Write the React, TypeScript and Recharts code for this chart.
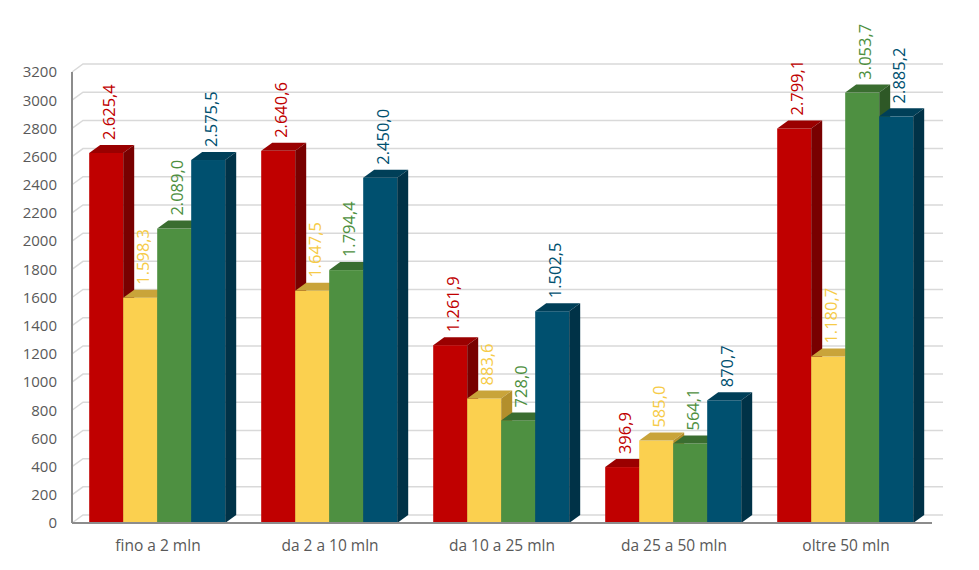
import { BarChart, Bar, XAxis, YAxis, CartesianGrid, LabelList } from 'recharts';

const categories = ['fino a 2 mln', 'da 2 a 10 mln', 'da 10 a 25 mln', 'da 25 a 50 mln', 'oltre 50 mln'];
const serieA = [2625.4, 2640.6, 1261.9, 396.9, 2799.1];
const serieB = [1598.3, 1647.5, 883.6, 585.0, 1180.7];
const serieC = [2089.0, 1794.4, 728.0, 564.1, 3053.7];
const serieD = [2575.5, 2450.0, 1502.5, 870.7, 2885.2];
const yTicks = [0, 200, 400, 600, 800, 1000, 1200, 1400, 1600, 1800, 2000, 2200, 2400, 2600, 2800, 3000, 3200];

const data = categories.map((name, i) => ({
  name,
  a: serieA[i],
  b: serieB[i],
  c: serieC[i],
  d: serieD[i],
}));

// depth of the fake 3D
const DX = 11;
const DY = 8;

const palette = {
  a: { front: '#C00000', top: '#9A0000', side: '#780000', label: '#C00000' },
  b: { front: '#FBD04F', top: '#C9A43A', side: '#B38F2C', label: '#F6CB48' },
  c: { front: '#4E9041', top: '#3A6D30', side: '#2E5826', label: '#4E8F40' },
  d: { front: '#00506F', top: '#003F58', side: '#003247', label: '#00506F' },
};

const fmt = (v: number) => {
  const [int, dec] = v.toFixed(1).split('.');
  return int.replace(/\B(?=(\d{3})+(?!\d))/g, '.') + ',' + dec;
};

const box = (c: { front: string; top: string; side: string }) => (props: any) => {
  const { x, y, width, height } = props;
  if (height == null || height <= 0) return <g />;
  return (
    <g>
      <rect x={x} y={y} width={width} height={height} fill={c.front} />
      <polygon
        points={`${x},${y} ${x + width},${y} ${x + width + DX},${y - DY} ${x + DX},${y - DY}`}
        fill={c.top}
      />
      <polygon
        points={`${x + width},${y} ${x + width + DX},${y - DY} ${x + width + DX},${y + height - DY} ${x + width},${y + height}`}
        fill={c.side}
      />
    </g>
  );
};

const valueLabel = (color: string) => (props: any) => {
  const { x, y, width, value } = props;
  const cx = x + width / 2 + 2;
  const cy = y - DY - 5;
  return (
    <text
      x={cx}
      y={cy}
      transform={`rotate(-90, ${cx}, ${cy})`}
      fill={color}
      fontSize={16.5}
      fontFamily="'Open Sans', sans-serif"
      textAnchor="start"
      dominantBaseline="central"
    >
      {fmt(value)}
    </text>
  );
};

const backGridLine = (props: any) => {
  const { x1, y1, x2 } = props;
  return (
    <path
      key={props.key}
      d={`M${x1},${y1} L${x1 + DX},${y1 - DY} L${x2 + DX},${y1 - DY}`}
      stroke="#D9D9D9"
      strokeWidth={1.5}
      fill="none"
    />
  );
};

export default function App() {
  return (
    <div style={{ position: 'absolute', left: 0, top: 0, background: '#fff' }}>
      <BarChart
        width={979}
        height={570}
        data={data}
        margin={{ top: 72, right: 47, left: 12, bottom: 17 }}
        barCategoryGap="10%"
        barGap={0}
      >
        <CartesianGrid vertical={false} horizontal={backGridLine} />
        <XAxis
          dataKey="name"
          axisLine={{ stroke: '#8C8C8C', strokeWidth: 2 }}
          tickLine={false}
          tickSize={6}
          tickMargin={11}
          height={30}
          tick={{ fill: '#595959', fontSize: 15.5, fontFamily: "'Open Sans', sans-serif" }}
        />
        <YAxis
          domain={[0, 3200]}
          ticks={yTicks}
          interval={0}
          axisLine={{ stroke: '#8C8C8C', strokeWidth: 2 }}
          tickLine={false}
          tickSize={6}
          tickMargin={9}
          width={60}
          tick={{ fill: '#595959', fontSize: 15, fontFamily: "'Open Sans', sans-serif" }}
        />
        <Bar dataKey="a" shape={box(palette.a)} isAnimationActive={false}>
          <LabelList dataKey="a" content={valueLabel(palette.a.label)} />
        </Bar>
        <Bar dataKey="b" shape={box(palette.b)} isAnimationActive={false}>
          <LabelList dataKey="b" content={valueLabel(palette.b.label)} />
        </Bar>
        <Bar dataKey="c" shape={box(palette.c)} isAnimationActive={false}>
          <LabelList dataKey="c" content={valueLabel(palette.c.label)} />
        </Bar>
        <Bar dataKey="d" shape={box(palette.d)} isAnimationActive={false}>
          <LabelList dataKey="d" content={valueLabel(palette.d.label)} />
        </Bar>
      </BarChart>
    </div>
  );
}
